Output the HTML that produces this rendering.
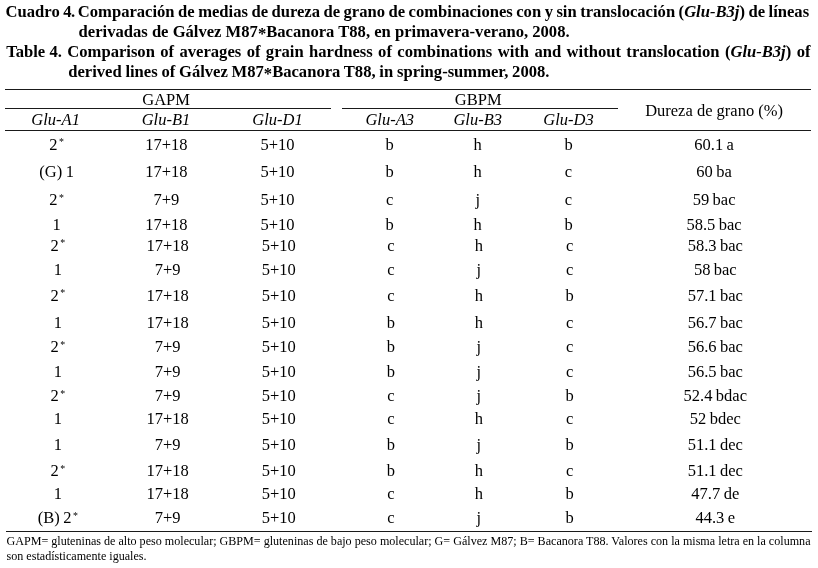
<!DOCTYPE html>
<html><head><meta charset="utf-8"><style>
html,body{margin:0;padding:0;background:#fff;}
body{width:818px;height:568px;position:relative;overflow:hidden;font-family:"Liberation Serif",serif;color:#000;}
div{position:absolute;white-space:nowrap;line-height:1;}
#w{position:absolute;left:0;top:0;width:818px;height:568px;will-change:transform;background:#fff;}
.b{font-weight:bold;color:#000;}
.jt{text-align:justify;text-align-last:justify;}
.ast{position:relative;top:0.15em;}
sup{font-size:0.6em;vertical-align:0;position:relative;top:-0.42em;margin-left:1.5px;}
</style></head><body><div id="w">
<div class="b" style="left:5.60px;top:4.00px;font-size:16.6px;word-spacing:-0.5px">Cuadro <span style="letter-spacing:-0.7px">4.</span></div>
<div class="b" style="left:77.80px;top:4.00px;font-size:16.6px;word-spacing:-0.67px">Comparación de medias de dureza de grano de combinaciones con y sin translocación (<i>Glu-B3j</i>) de líneas</div>
<div class="b" style="left:78.60px;top:23.80px;font-size:16.6px">derivadas de Gálvez M87<span class="ast">*</span>Bacanora T88, en primavera-verano, 2008.</div>
<div class="b" style="left:6.20px;top:44.15px;font-size:16.6px">Table 4.</div>
<div class="b jt" style="left:67.30px;top:44.15px;font-size:16.6px;width:743.2px">Comparison of averages of grain hardness of combinations with and without translocation (<i>Glu-B3j</i>) of</div>
<div class="b" style="left:68.20px;top:63.80px;font-size:16.6px;word-spacing:-0.4px">derived lines of Gálvez M87<span class="ast">*</span>Bacanora T88, in spring-summer, 2008.</div>
<div class="r" style="left:5px;top:89px;width:806px;height:1px;background:#1a1a1a"></div>
<div class="r" style="left:5px;top:108px;width:326px;height:1px;background:#1a1a1a"></div>
<div class="r" style="left:342px;top:108px;width:276px;height:1px;background:#1a1a1a"></div>
<div class="r" style="left:5px;top:130px;width:806px;height:1px;background:#1a1a1a"></div>
<div class="r" style="left:6px;top:531px;width:806px;height:1px;background:#1a1a1a"></div>
<div style="left:66.10px;top:91.98px;width:200px;text-align:center;font-size:16.5px">GAPM</div>
<div style="left:378.20px;top:91.78px;width:200px;text-align:center;font-size:16.5px">GBPM</div>
<div style="left:-44.40px;top:111.98px;width:200px;text-align:center;font-size:16.5px"><i>Glu-A1</i></div>
<div style="left:66.00px;top:111.98px;width:200px;text-align:center;font-size:16.5px"><i>Glu-B1</i></div>
<div style="left:177.50px;top:111.98px;width:200px;text-align:center;font-size:16.5px"><i>Glu-D1</i></div>
<div style="left:289.70px;top:111.98px;width:200px;text-align:center;font-size:16.5px"><i>Glu-A3</i></div>
<div style="left:377.70px;top:111.98px;width:200px;text-align:center;font-size:16.5px"><i>Glu-B3</i></div>
<div style="left:468.50px;top:111.98px;width:200px;text-align:center;font-size:16.5px"><i>Glu-D3</i></div>
<div style="left:614.10px;top:102.88px;width:200px;text-align:center;font-size:16.5px">Dureza de grano (%)</div>
<div style="left:-43.40px;top:136.58px;width:200px;text-align:center;font-size:16.5px">2<sup>*</sup></div>
<div style="left:66.40px;top:136.58px;width:200px;text-align:center;font-size:16.5px">17+18</div>
<div style="left:177.50px;top:136.58px;width:200px;text-align:center;font-size:16.5px">5+10</div>
<div style="left:289.70px;top:136.58px;width:200px;text-align:center;font-size:16.5px">b</div>
<div style="left:377.70px;top:136.58px;width:200px;text-align:center;font-size:16.5px">h</div>
<div style="left:468.50px;top:136.58px;width:200px;text-align:center;font-size:16.5px">b</div>
<div style="left:614.10px;top:136.58px;width:200px;text-align:center;font-size:16.5px;word-spacing:-0.7px">60.1 a</div>
<div style="left:-43.40px;top:163.68px;width:200px;text-align:center;font-size:16.5px;word-spacing:-0.7px">(G) 1</div>
<div style="left:66.40px;top:163.68px;width:200px;text-align:center;font-size:16.5px">17+18</div>
<div style="left:177.50px;top:163.68px;width:200px;text-align:center;font-size:16.5px">5+10</div>
<div style="left:289.70px;top:163.68px;width:200px;text-align:center;font-size:16.5px">b</div>
<div style="left:377.70px;top:163.68px;width:200px;text-align:center;font-size:16.5px">h</div>
<div style="left:468.50px;top:163.68px;width:200px;text-align:center;font-size:16.5px">c</div>
<div style="left:614.10px;top:163.68px;width:200px;text-align:center;font-size:16.5px;word-spacing:-0.7px">60 ba</div>
<div style="left:-43.40px;top:191.88px;width:200px;text-align:center;font-size:16.5px">2<sup>*</sup></div>
<div style="left:66.40px;top:191.88px;width:200px;text-align:center;font-size:16.5px">7+9</div>
<div style="left:177.50px;top:191.88px;width:200px;text-align:center;font-size:16.5px">5+10</div>
<div style="left:289.70px;top:191.88px;width:200px;text-align:center;font-size:16.5px">c</div>
<div style="left:377.70px;top:191.88px;width:200px;text-align:center;font-size:16.5px">j</div>
<div style="left:468.50px;top:191.88px;width:200px;text-align:center;font-size:16.5px">c</div>
<div style="left:614.10px;top:191.88px;width:200px;text-align:center;font-size:16.5px;word-spacing:-0.7px">59 bac</div>
<div style="left:-43.40px;top:216.58px;width:200px;text-align:center;font-size:16.5px">1</div>
<div style="left:66.40px;top:216.58px;width:200px;text-align:center;font-size:16.5px">17+18</div>
<div style="left:177.50px;top:216.58px;width:200px;text-align:center;font-size:16.5px">5+10</div>
<div style="left:289.70px;top:216.58px;width:200px;text-align:center;font-size:16.5px">b</div>
<div style="left:377.70px;top:216.58px;width:200px;text-align:center;font-size:16.5px">h</div>
<div style="left:468.50px;top:216.58px;width:200px;text-align:center;font-size:16.5px">b</div>
<div style="left:614.10px;top:216.58px;width:200px;text-align:center;font-size:16.5px;word-spacing:-0.7px">58.5 bac</div>
<div style="left:-42.20px;top:237.58px;width:200px;text-align:center;font-size:16.5px">2<sup>*</sup></div>
<div style="left:67.60px;top:237.58px;width:200px;text-align:center;font-size:16.5px">17+18</div>
<div style="left:178.70px;top:237.58px;width:200px;text-align:center;font-size:16.5px">5+10</div>
<div style="left:290.90px;top:237.58px;width:200px;text-align:center;font-size:16.5px">c</div>
<div style="left:378.90px;top:237.58px;width:200px;text-align:center;font-size:16.5px">h</div>
<div style="left:469.70px;top:237.58px;width:200px;text-align:center;font-size:16.5px">c</div>
<div style="left:615.30px;top:237.58px;width:200px;text-align:center;font-size:16.5px;word-spacing:-0.7px">58.3 bac</div>
<div style="left:-42.20px;top:261.68px;width:200px;text-align:center;font-size:16.5px">1</div>
<div style="left:67.60px;top:261.68px;width:200px;text-align:center;font-size:16.5px">7+9</div>
<div style="left:178.70px;top:261.68px;width:200px;text-align:center;font-size:16.5px">5+10</div>
<div style="left:290.90px;top:261.68px;width:200px;text-align:center;font-size:16.5px">c</div>
<div style="left:378.90px;top:261.68px;width:200px;text-align:center;font-size:16.5px">j</div>
<div style="left:469.70px;top:261.68px;width:200px;text-align:center;font-size:16.5px">c</div>
<div style="left:615.30px;top:261.68px;width:200px;text-align:center;font-size:16.5px;word-spacing:-0.7px">58 bac</div>
<div style="left:-42.20px;top:287.58px;width:200px;text-align:center;font-size:16.5px">2<sup>*</sup></div>
<div style="left:67.60px;top:287.58px;width:200px;text-align:center;font-size:16.5px">17+18</div>
<div style="left:178.70px;top:287.58px;width:200px;text-align:center;font-size:16.5px">5+10</div>
<div style="left:290.90px;top:287.58px;width:200px;text-align:center;font-size:16.5px">c</div>
<div style="left:378.90px;top:287.58px;width:200px;text-align:center;font-size:16.5px">h</div>
<div style="left:469.70px;top:287.58px;width:200px;text-align:center;font-size:16.5px">b</div>
<div style="left:615.30px;top:287.58px;width:200px;text-align:center;font-size:16.5px;word-spacing:-0.7px">57.1 bac</div>
<div style="left:-42.20px;top:314.98px;width:200px;text-align:center;font-size:16.5px">1</div>
<div style="left:67.60px;top:314.98px;width:200px;text-align:center;font-size:16.5px">17+18</div>
<div style="left:178.70px;top:314.98px;width:200px;text-align:center;font-size:16.5px">5+10</div>
<div style="left:290.90px;top:314.98px;width:200px;text-align:center;font-size:16.5px">b</div>
<div style="left:378.90px;top:314.98px;width:200px;text-align:center;font-size:16.5px">h</div>
<div style="left:469.70px;top:314.98px;width:200px;text-align:center;font-size:16.5px">c</div>
<div style="left:615.30px;top:314.98px;width:200px;text-align:center;font-size:16.5px;word-spacing:-0.7px">56.7 bac</div>
<div style="left:-42.20px;top:338.88px;width:200px;text-align:center;font-size:16.5px">2<sup>*</sup></div>
<div style="left:67.60px;top:338.88px;width:200px;text-align:center;font-size:16.5px">7+9</div>
<div style="left:178.70px;top:338.88px;width:200px;text-align:center;font-size:16.5px">5+10</div>
<div style="left:290.90px;top:338.88px;width:200px;text-align:center;font-size:16.5px">b</div>
<div style="left:378.90px;top:338.88px;width:200px;text-align:center;font-size:16.5px">j</div>
<div style="left:469.70px;top:338.88px;width:200px;text-align:center;font-size:16.5px">c</div>
<div style="left:615.30px;top:338.88px;width:200px;text-align:center;font-size:16.5px;word-spacing:-0.7px">56.6 bac</div>
<div style="left:-42.20px;top:363.58px;width:200px;text-align:center;font-size:16.5px">1</div>
<div style="left:67.60px;top:363.58px;width:200px;text-align:center;font-size:16.5px">7+9</div>
<div style="left:178.70px;top:363.58px;width:200px;text-align:center;font-size:16.5px">5+10</div>
<div style="left:290.90px;top:363.58px;width:200px;text-align:center;font-size:16.5px">b</div>
<div style="left:378.90px;top:363.58px;width:200px;text-align:center;font-size:16.5px">j</div>
<div style="left:469.70px;top:363.58px;width:200px;text-align:center;font-size:16.5px">c</div>
<div style="left:615.30px;top:363.58px;width:200px;text-align:center;font-size:16.5px;word-spacing:-0.7px">56.5 bac</div>
<div style="left:-42.20px;top:387.78px;width:200px;text-align:center;font-size:16.5px">2<sup>*</sup></div>
<div style="left:67.60px;top:387.78px;width:200px;text-align:center;font-size:16.5px">7+9</div>
<div style="left:178.70px;top:387.78px;width:200px;text-align:center;font-size:16.5px">5+10</div>
<div style="left:290.90px;top:387.78px;width:200px;text-align:center;font-size:16.5px">c</div>
<div style="left:378.90px;top:387.78px;width:200px;text-align:center;font-size:16.5px">j</div>
<div style="left:469.70px;top:387.78px;width:200px;text-align:center;font-size:16.5px">b</div>
<div style="left:615.30px;top:387.78px;width:200px;text-align:center;font-size:16.5px;word-spacing:-0.7px">52.4 bdac</div>
<div style="left:-42.20px;top:410.68px;width:200px;text-align:center;font-size:16.5px">1</div>
<div style="left:67.60px;top:410.68px;width:200px;text-align:center;font-size:16.5px">17+18</div>
<div style="left:178.70px;top:410.68px;width:200px;text-align:center;font-size:16.5px">5+10</div>
<div style="left:290.90px;top:410.68px;width:200px;text-align:center;font-size:16.5px">c</div>
<div style="left:378.90px;top:410.68px;width:200px;text-align:center;font-size:16.5px">h</div>
<div style="left:469.70px;top:410.68px;width:200px;text-align:center;font-size:16.5px">c</div>
<div style="left:615.30px;top:410.68px;width:200px;text-align:center;font-size:16.5px;word-spacing:-0.7px">52 bdec</div>
<div style="left:-42.20px;top:436.68px;width:200px;text-align:center;font-size:16.5px">1</div>
<div style="left:67.60px;top:436.68px;width:200px;text-align:center;font-size:16.5px">7+9</div>
<div style="left:178.70px;top:436.68px;width:200px;text-align:center;font-size:16.5px">5+10</div>
<div style="left:290.90px;top:436.68px;width:200px;text-align:center;font-size:16.5px">b</div>
<div style="left:378.90px;top:436.68px;width:200px;text-align:center;font-size:16.5px">j</div>
<div style="left:469.70px;top:436.68px;width:200px;text-align:center;font-size:16.5px">b</div>
<div style="left:615.30px;top:436.68px;width:200px;text-align:center;font-size:16.5px;word-spacing:-0.7px">51.1 dec</div>
<div style="left:-42.20px;top:462.68px;width:200px;text-align:center;font-size:16.5px">2<sup>*</sup></div>
<div style="left:67.60px;top:462.68px;width:200px;text-align:center;font-size:16.5px">17+18</div>
<div style="left:178.70px;top:462.68px;width:200px;text-align:center;font-size:16.5px">5+10</div>
<div style="left:290.90px;top:462.68px;width:200px;text-align:center;font-size:16.5px">b</div>
<div style="left:378.90px;top:462.68px;width:200px;text-align:center;font-size:16.5px">h</div>
<div style="left:469.70px;top:462.68px;width:200px;text-align:center;font-size:16.5px">c</div>
<div style="left:615.30px;top:462.68px;width:200px;text-align:center;font-size:16.5px;word-spacing:-0.7px">51.1 dec</div>
<div style="left:-42.20px;top:485.78px;width:200px;text-align:center;font-size:16.5px">1</div>
<div style="left:67.60px;top:485.78px;width:200px;text-align:center;font-size:16.5px">17+18</div>
<div style="left:178.70px;top:485.78px;width:200px;text-align:center;font-size:16.5px">5+10</div>
<div style="left:290.90px;top:485.78px;width:200px;text-align:center;font-size:16.5px">c</div>
<div style="left:378.90px;top:485.78px;width:200px;text-align:center;font-size:16.5px">h</div>
<div style="left:469.70px;top:485.78px;width:200px;text-align:center;font-size:16.5px">b</div>
<div style="left:615.30px;top:485.78px;width:200px;text-align:center;font-size:16.5px;word-spacing:-0.7px">47.7 de</div>
<div style="left:-42.20px;top:509.78px;width:200px;text-align:center;font-size:16.5px;word-spacing:-0.7px">(B) 2<sup>*</sup></div>
<div style="left:67.60px;top:509.78px;width:200px;text-align:center;font-size:16.5px">7+9</div>
<div style="left:178.70px;top:509.78px;width:200px;text-align:center;font-size:16.5px">5+10</div>
<div style="left:290.90px;top:509.78px;width:200px;text-align:center;font-size:16.5px">c</div>
<div style="left:378.90px;top:509.78px;width:200px;text-align:center;font-size:16.5px">j</div>
<div style="left:469.70px;top:509.78px;width:200px;text-align:center;font-size:16.5px">b</div>
<div style="left:615.30px;top:509.78px;width:200px;text-align:center;font-size:16.5px;word-spacing:-0.7px">44.3 e</div>
<div style="left:6.50px;top:534.87px;font-size:12.1px">GAPM= gluteninas de alto peso molecular; GBPM= gluteninas de bajo peso molecular; G= Gálvez M87; B= Bacanora T88. Valores con la misma letra en la columna</div>
<div style="left:6.50px;top:549.57px;font-size:12.1px">son estadísticamente iguales.</div>
</div></body></html>
